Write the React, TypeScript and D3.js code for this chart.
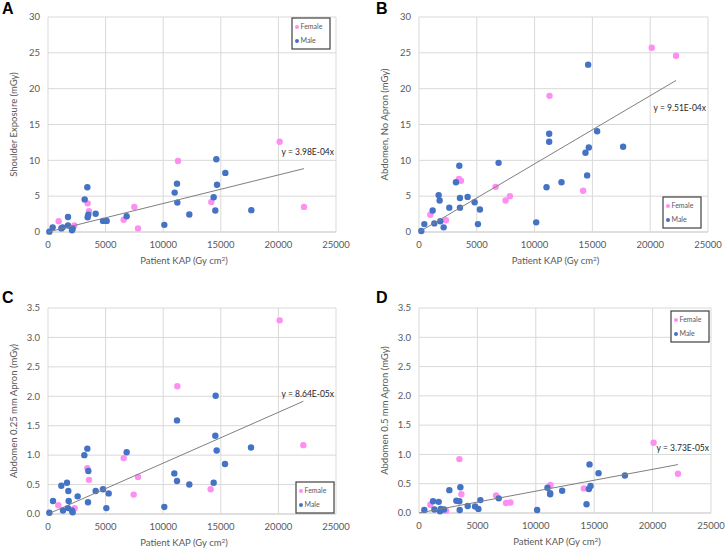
import React from "react";
import * as d3 from "d3";

// [KAP, dose] pairs
const femaleA = [[926, 1.5], [2286, 0.9], [3443, 4.0], [3559, 2.9], [6569, 1.7], [7495, 3.5], [7813, 0.5], [11285, 9.9], [14178, 4.2], [20110, 12.6], [22222, 3.5]];
const maleA = [[116, 0.05], [405, 0.65], [1157, 0.5], [1273, 0.65], [1736, 2.1], [1736, 0.9], [2083, 0.25], [2141, 0.45], [3183, 4.55], [3414, 6.25], [3443, 2.05], [3501, 2.4], [4138, 2.55], [4774, 1.55], [5093, 1.55], [6829, 2.2], [10098, 1.0], [10995, 5.5], [11198, 6.75], [11227, 4.1], [12269, 2.45], [14381, 4.85], [14525, 3.0], [14612, 10.15], [14670, 6.6], [15394, 8.25], [17650, 3.05]];

const femaleB = [[979, 2.4], [2333, 1.65], [3456, 7.4], [3629, 7.15], [6624, 6.3], [7488, 4.4], [7863, 5.0], [11290, 19.0], [14199, 5.75], [20133, 25.7], [22235, 24.6]];
const maleB = [[200, 0.15], [461, 1.1], [1181, 3.0], [1325, 1.2], [1700, 5.15], [1786, 4.4], [1843, 1.5], [2131, 0.65], [2621, 3.4], [3197, 6.95], [3485, 9.25], [3543, 4.75], [3543, 3.4], [4205, 4.9], [4810, 4.15], [5098, 1.1], [5271, 3.15], [6884, 9.65], [10138, 1.35], [11031, 6.25], [11262, 13.7], [11262, 12.6], [12327, 6.95], [14401, 11.05], [14545, 7.9], [14631, 23.35], [14689, 11.8], [15409, 14.05], [17656, 11.9]];

const femaleC = [[897, 0.15], [2315, 0.1], [3414, 0.78], [3559, 0.58], [6569, 0.95], [7437, 0.33], [7813, 0.63], [11227, 2.17], [14120, 0.42], [20110, 3.29], [22164, 1.17]];
const maleC = [[116, 0.02], [434, 0.22], [1157, 0.48], [1302, 0.06], [1649, 0.53], [1765, 0.39], [1794, 0.22], [1736, 0.1], [2083, 0.06], [2141, 0.03], [2575, 0.3], [3154, 1.0], [3414, 1.11], [3501, 0.73], [3472, 0.2], [4138, 0.39], [4774, 0.42], [5064, 0.1], [5266, 0.35], [6829, 1.05], [10098, 0.12], [10966, 0.69], [11198, 1.59], [11198, 0.56], [12269, 0.5], [14381, 0.53], [14525, 1.33], [14554, 2.01], [14641, 1.08], [15365, 0.85], [17622, 1.13]];

const femaleD = [[971, 0.14], [2314, 0.04], [3457, 0.92], [3629, 0.32], [6600, 0.3], [7457, 0.17], [7829, 0.18], [11257, 0.48], [14114, 0.42], [20086, 1.2], [22171, 0.67]];
const maleD = [[457, 0.05], [1200, 0.2], [1314, 0.06], [1686, 0.19], [1800, 0.03], [1857, 0.07], [2143, 0.06], [2600, 0.39], [3200, 0.21], [3457, 0.2], [3486, 0.05], [3543, 0.44], [4171, 0.12], [4800, 0.11], [5086, 0.07], [5257, 0.22], [6829, 0.25], [10114, 0.05], [11000, 0.43], [11229, 0.34], [11229, 0.32], [12257, 0.38], [14343, 0.15], [14543, 0.41], [14600, 0.83], [14686, 0.46], [15371, 0.68], [17629, 0.64]];

const slopes = [3.98e-4, 9.51e-4, 8.64e-5, 3.73e-5];
const slopeLabels = ["y = 3.98E-04x", "y = 9.51E-04x", "y = 8.64E-05x", "y = 3.73E-05x"];
const yTitles = ["Shoulder Exposure (mGy)", "Abdomen, No Apron (mGy)", "Abdomen 0.25 mm Apron (mGy)", "Abdomen 0.5 mm Apron (mGy)"];
const panelLetters = ["A", "B", "C", "D"];
const xTicks = [0, 5000, 10000, 15000, 20000, 25000];

const FEMALE = "#ff8ef2";
const MALE = "#4472c4";
const FONT = "Lato, 'Open Sans', sans-serif";

const panels = [
  { female: femaleA, male: maleA, left: 48, top: 17, w: 288, h: 215, yMax: 30, step: 5, fmt: "d", labelY: 155, legend: [292, 18] },
  { female: femaleB, male: maleB, left: 419, top: 17, w: 289, h: 215, yMax: 30, step: 5, fmt: "d", labelY: 111, legend: [663, 197] },
  { female: femaleC, male: maleC, left: 48, top: 308, w: 288, h: 206, yMax: 3.5, step: 0.5, fmt: ".1f", labelY: 397, legend: [296, 482] },
  { female: femaleD, male: maleD, left: 419, top: 308, w: 292, h: 205, yMax: 3.5, step: 0.5, fmt: ".1f", labelY: 451, legend: [671, 311] },
];

function Panel({ p, i }: { p: any; i: number }) {
  const x = d3.scaleLinear().domain([0, 25000]).range([p.left, p.left + p.w]);
  const y = d3.scaleLinear().domain([0, p.yMax]).range([p.top + p.h, p.top]);
  const yTicks = d3.range(0, p.yMax + p.step / 2, p.step);
  const fmt = d3.format(p.fmt);
  const all = [...p.female, ...p.male];
  const xMax = d3.max(all, (d: number[]) => d[0]) as number;
  const trend = d3.line<number>().x((v) => x(v)).y((v) => y(v * slopes[i]));
  const bottom = p.top + p.h;
  const [lx, ly] = p.legend;

  return (
    <g fontFamily={FONT}>
      <text x={i % 2 === 0 ? 2 : 376} y={i < 2 ? 14 : 303} fontSize={16} fontWeight="bold" fontFamily="Arial, 'Liberation Sans', sans-serif" fill="#000">
        {panelLetters[i]}
      </text>
      {yTicks.map((t) => (
        <g key={"y" + t}>
          <line x1={p.left} x2={p.left + p.w} y1={y(t)} y2={y(t)} stroke={t === 0 ? "#bfbfbf" : "#d9d9d9"} strokeWidth={1} />
          <text x={p.left - 8} y={y(t)} dy="0.35em" textAnchor="end" fontSize={9.5} fill="#595959">
            {fmt(t)}
          </text>
        </g>
      ))}
      {xTicks.map((t) => (
        <g key={"x" + t}>
          <line x1={x(t)} x2={x(t)} y1={p.top} y2={bottom} stroke="#d9d9d9" strokeWidth={1} />
          <text x={x(t)} y={bottom + 16} textAnchor="middle" fontSize={9.5} fill="#595959">
            {t}
          </text>
        </g>
      ))}
      <text x={p.left + p.w / 2 - 8} y={bottom + 32} textAnchor="middle" fontSize={9.5} fill="#595959">
        Patient KAP (Gy cm<tspan baselineShift="super" fontSize={6.5}>2</tspan>)
      </text>
      <text transform={`translate(${p.left - 31},${p.top + p.h / 2}) rotate(-90)`} textAnchor="middle" fontSize={9.5} fill="#595959">
        {yTitles[i]}
      </text>
      {p.female.map((d: number[], k: number) => (
        <circle key={"f" + k} cx={x(d[0])} cy={y(d[1])} r={3.2} fill={FEMALE} />
      ))}
      {p.male.map((d: number[], k: number) => (
        <circle key={"m" + k} cx={x(d[0])} cy={y(d[1])} r={3.2} fill={MALE} />
      ))}
      <path d={trend([0, xMax]) || ""} fill="none" stroke="#7f7f7f" strokeWidth={1} />
      <text x={p.left + p.w - 2} y={p.labelY} textAnchor="end" fontSize={8.5} fill="#262626">
        {slopeLabels[i]}
      </text>
      <rect x={lx} y={ly} width={38} height={31} fill="#fff" stroke="#404040" strokeWidth={1.2} />
      <circle cx={lx + 5} cy={ly + 9} r={2} fill={FEMALE} />
      <text x={lx + 8.5} y={ly + 9} dy="0.35em" fontSize={7} fill="#595959">Female</text>
      <circle cx={lx + 5} cy={ly + 23} r={2} fill={MALE} />
      <text x={lx + 8.5} y={ly + 23} dy="0.35em" fontSize={7} fill="#595959">Male</text>
    </g>
  );
}

export default function App() {
  return (
    <svg width={728} height={551} style={{ position: "absolute", left: 0, top: 0, background: "#fff" }}>
      <rect width={728} height={551} fill="#fff" />
      {panels.map((p, i) => (
        <Panel key={i} p={p} i={i} />
      ))}
    </svg>
  );
}
